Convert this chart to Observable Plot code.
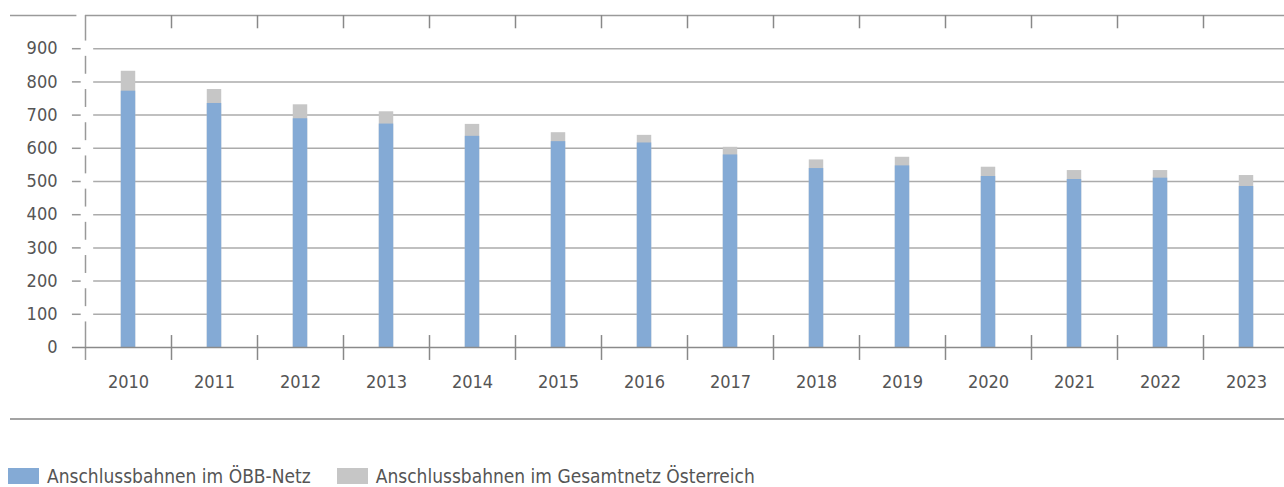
<!DOCTYPE html>
<html><head><meta charset="utf-8">
<script src="https://cdn.jsdelivr.net/npm/d3@7"></script>
<script src="https://cdn.jsdelivr.net/npm/@observablehq/plot@0.6"></script>
<style>
body{margin:0;background:#fff;font-family:"DejaVu Sans Condensed","DejaVu Sans",sans-serif;}
#chart{width:1284px;}
#chart svg{display:block;}
.sep{margin-left:10px;width:1274px;border-top:2px solid #a3a3a3;}
.legend{display:flex;align-items:center;margin-top:47px;margin-left:8px;font-size:19px;color:#555;height:18px;line-height:18px;}
.legend .sw{width:31px;height:16px;margin-right:8px;}
.legend .item{display:flex;align-items:center;margin-right:26px;}
</style></head>
<body><div id="chart"></div>
<script>
const years = [2010,2011,2012,2013,2014,2015,2016,2017,2018,2019,2020,2021,2022,2023];
const oebb =   [772,735,689,673,636,620,616,580,539,547,515,506,510,485];
const gesamt = [832,777,731,710,672,647,639,603,565,573,543,533,533,518];
const yTicks = [0,100,200,300,400,500,600,700,800,900];
const seriesNames = ["Anschlussbahnen im ÖBB-Netz","Anschlussbahnen im Gesamtnetz Österreich"];
const colors = ["#84aad5","#c6c6c6"];

const rows = years.map((y,i)=>({year:y, oebb:oebb[i], gesamt:gesamt[i]}));
const x0 = years[0]-0.5, x1 = years[years.length-1]+0.5;
const yTop = 1000;
const half = 0.084;
const segs = yTicks.map((t,i)=>({y1: i===0 ? -39 : t+23, y2: i===yTicks.length-1 ? yTop : yTicks[i+1]-23}));
const bounds = years.slice(1).map(y=>y-0.5);

const plot = Plot.plot({
  width:1284, height:418,
  marginLeft:10, marginRight:0, marginTop:15, marginBottom:71,
  style:{fontFamily:'"DejaVu Sans Condensed","DejaVu Sans",sans-serif', fontSize:"18px", color:"#555", background:"#fff"},
  x:{type:"linear", domain:[x0,x1], range:[85,1289], axis:null},
  y:{domain:[0,yTop], axis:null},
  marks:[
    Plot.ruleY(yTicks.filter(t=>t>0), {x1:x0+0.095, x2:x1, stroke:"#ababab", strokeWidth:1.5}),
    Plot.ruleY(yTicks.filter(t=>t>0), {x1:x0-0.152, x2:x0-0.05, stroke:"#999", strokeWidth:1.5}),
    Plot.ruleY([yTop], {x1:x0, x2:x1, stroke:"#9a9a9a", strokeWidth:1.5}),
    Plot.ruleY([yTop], {x1:x0-0.872, x2:x0-0.1, stroke:"#9a9a9a", strokeWidth:1.5}),
    Plot.ruleX(bounds, {y1:yTop, y2:960, stroke:"#888", strokeWidth:1.5}),
    Plot.ruleX(segs, {x:()=>x0, y1:"y1", y2:"y2", stroke:"#999", strokeWidth:1.5}),
    Plot.rectY(rows, {x1:d=>d.year-half, x2:d=>d.year+half, y1:0, y2:"gesamt", fill:colors[1]}),
    Plot.rectY(rows, {x1:d=>d.year-half, x2:d=>d.year+half, y1:0, y2:"oebb", fill:colors[0]}),
    Plot.ruleY([0], {x1:x0-0.152, x2:x1, stroke:"#8a8a8a", strokeWidth:1.5}),
    Plot.ruleX(bounds, {y1:36, y2:-39, stroke:"#888", strokeWidth:1.5}),
    Plot.text(yTicks, {x:()=>x0, y:d=>d, text:d=>String(d), dx:-28, textAnchor:"end", fill:"#555", fontSize:18}),
    Plot.text(years, {x:d=>d, y:()=>0, text:d=>String(d), dy:35, fill:"#555", fontSize:18})
  ]
});
const chart = document.getElementById("chart");
chart.appendChild(plot);
const sep = document.createElement("div"); sep.className="sep"; chart.appendChild(sep);
const lg = document.createElement("div"); lg.className="legend";
seriesNames.forEach((n,i)=>{
  const it=document.createElement("div"); it.className="item";
  const sw=document.createElement("div"); sw.className="sw"; sw.style.background=colors[i];
  const t=document.createElement("span"); t.textContent=n;
  it.appendChild(sw); it.appendChild(t); lg.appendChild(it);
});
chart.appendChild(lg);
</script>
</body></html>
